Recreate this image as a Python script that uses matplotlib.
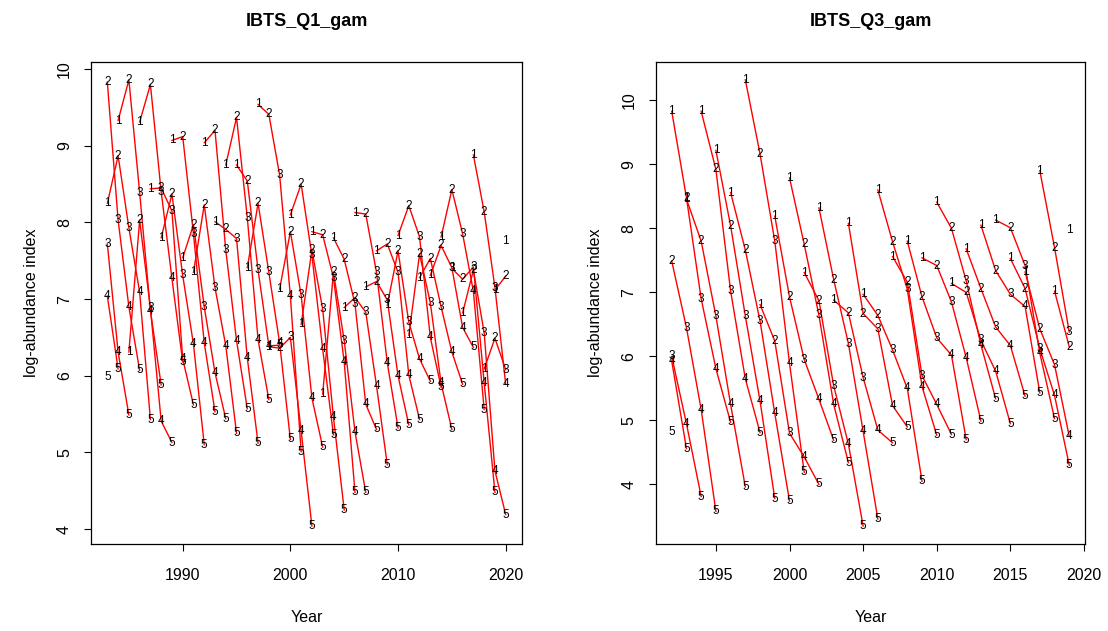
import numpy as np
import matplotlib
matplotlib.use("Agg")
import matplotlib.pyplot as plt

plt.rcParams['font.family'] = ['Liberation Sans', 'DejaVu Sans']

# IBTS Q1 survey, log-abundance index by year and age
q1_years = np.arange(1983, 2021)
q1_age1 = [8.25, 9.33, 6.31, 9.31, 8.44, 7.80, 9.07, 7.54, 7.35, 9.04, 8.01, 8.75, 8.75, 7.41, 9.54, 6.38, 7.13, 8.10, 6.67,
           7.88, 5.76, 7.80, 6.89, 8.13, 7.16, 7.63, 6.92, 7.83, 6.53, 7.28, 7.31, 7.81, 7.40, 6.82, 8.88, 6.09, 7.12, 7.76]
q1_age2 = [9.83, 8.87, 9.86, 8.03, 9.80, 8.45, 8.37, 9.12, 7.97, 8.23, 9.20, 7.91, 9.37, 8.54, 8.25, 9.41, 6.36, 7.88, 8.50,
           7.64, 7.84, 7.35, 7.52, 7.02, 8.11, 7.23, 7.72, 7.63, 8.22, 7.59, 7.53, 7.70, 8.43, 7.26, 7.38, 8.14, 6.49, 7.30]
q1_age3 = [7.72, 8.03, 7.93, 8.39, 6.88, 8.40, 8.15, 7.31, 7.85, 6.90, 7.15, 7.64, 7.79, 8.06, 7.38, 7.35, 8.62, 6.50, 7.05,
           7.57, 6.87, 7.28, 6.46, 6.94, 6.83, 7.35, 6.99, 7.35, 6.70, 7.81, 6.95, 6.90, 7.41, 7.85, 7.42, 6.56, 7.15, 6.08]
q1_age4 = [7.04, 6.31, 6.90, 7.09, 6.85, 5.41, 7.27, 6.22, 6.41, 6.43, 6.04, 6.39, 6.46, 6.23, 6.47, 6.39, 6.43, 7.04, 5.28,
           5.71, 6.35, 5.46, 6.18, 5.27, 5.63, 5.87, 6.17, 6.00, 6.01, 6.22, 6.50, 5.90, 6.31, 6.63, 7.10, 5.91, 4.76, 5.89]
q1_age5 = [5.98, 6.09, 5.49, 6.07, 5.43, 5.88, 5.13, 6.18, 5.62, 5.10, 5.53, 5.44, 5.25, 5.57, 5.12, 5.69, 6.40, 5.17, 5.01,
           4.04, 5.07, 5.23, 4.25, 4.48, 4.48, 5.30, 4.84, 5.32, 5.36, 5.43, 5.93, 5.85, 5.30, 5.89, 6.37, 5.56, 4.48, 4.19]

# IBTS Q3 survey
q3_years = np.arange(1992, 2020)
q3_age1 = [9.83, 8.46, 9.83, 9.22, 8.56, 10.32, 6.81, 8.19, 8.79, 7.31, 8.32, 6.88, 8.08, 6.97, 8.60, 7.56, 7.80, 7.54,
           8.41, 7.14, 7.68, 8.05, 8.13, 7.53, 7.32, 8.90, 7.02, 7.98]
q3_age2 = [7.49, 8.48, 7.80, 8.92, 8.04, 7.66, 9.16, 6.24, 6.93, 7.75, 6.87, 7.20, 6.68, 6.67, 6.64, 7.79, 7.16, 6.93,
           7.42, 8.00, 7.00, 7.06, 7.34, 8.01, 7.06, 6.43, 7.70, 6.15]
q3_age3 = [6.00, 6.45, 6.90, 6.63, 7.02, 6.63, 6.55, 7.80, 4.80, 5.95, 6.64, 5.54, 6.20, 5.67, 6.43, 6.10, 7.05, 5.70,
           6.29, 6.85, 7.18, 6.25, 6.46, 6.97, 7.42, 6.12, 5.87, 6.38]
q3_age4 = [5.93, 4.95, 5.17, 5.81, 5.25, 5.65, 5.30, 5.11, 5.89, 4.43, 5.33, 5.25, 4.63, 4.83, 4.85, 5.23, 5.50, 5.53,
           5.25, 6.02, 5.98, 6.18, 5.77, 6.17, 6.78, 6.05, 5.39, 4.75]
q3_age5 = [4.82, 4.56, 3.81, 3.58, 4.97, 3.96, 4.81, 3.78, 3.74, 4.19, 4.00, 4.69, 4.34, 3.35, 3.46, 4.65, 4.90, 4.05,
           4.77, 4.78, 4.70, 4.99, 5.34, 4.95, 5.38, 5.43, 5.03, 4.30]


def catch_curves(ax, years, ages, title, xticks):
    idx = np.array(ages)  # shape (n_ages, n_years)
    n_ages = idx.shape[0]
    # one red line per cohort, age a in year y -> age a+1 in year y+1
    for c in range(years[0] - n_ages + 1, years[-1] + 1):
        xs, ys = [], []
        for a in range(n_ages):
            y = c + a
            if years[0] <= y <= years[-1]:
                xs.append(y)
                ys.append(idx[a, y - years[0]])
        if len(xs) > 1:
            ax.plot(xs, ys, color='red', lw=1)
    for a in range(n_ages):
        for j, y in enumerate(years):
            ax.text(y, idx[a, j], str(a + 1), ha='center', va='center', fontsize=8.5, color='black')

    ax.set_xlim(years[0] - 0.04 * (years[-1] - years[0]), years[-1] + 0.04 * (years[-1] - years[0]))
    lo, hi = idx.min(), idx.max()
    ax.set_ylim(lo - 0.04 * (hi - lo), hi + 0.04 * (hi - lo))
    ax.set_xticks(xticks)
    ax.set_yticks(range(4, 11))
    ax.tick_params(direction='out', length=5, width=0.8, labelsize=11.5)
    ax.tick_params(axis='x', pad=12)
    ax.tick_params(axis='y', pad=9)
    for lab in ax.get_yticklabels():
        lab.set_rotation(90)
        lab.set_va('center')
    for s in ax.spines.values():
        s.set_linewidth(0.9)
    ax.set_title(title, fontsize=13, fontweight='bold', pad=26)
    ax.set_xlabel('Year', fontsize=11.5, labelpad=20)
    ax.set_ylabel('log-abundance index', fontsize=11.5, labelpad=13)


fig = plt.figure(figsize=(11.08, 6.31), dpi=100)
ax1 = fig.add_axes([0.0825, 0.138, 0.3883, 0.7637])
ax2 = fig.add_axes([0.5919, 0.138, 0.3875, 0.7637])

catch_curves(ax1, q1_years, [q1_age1, q1_age2, q1_age3, q1_age4, q1_age5], 'IBTS_Q1_gam', [1990, 2000, 2010, 2020])
catch_curves(ax2, q3_years, [q3_age1, q3_age2, q3_age3, q3_age4, q3_age5], 'IBTS_Q3_gam',
             [1995, 2000, 2005, 2010, 2015, 2020])

fig.savefig('out.png', dpi=100)
